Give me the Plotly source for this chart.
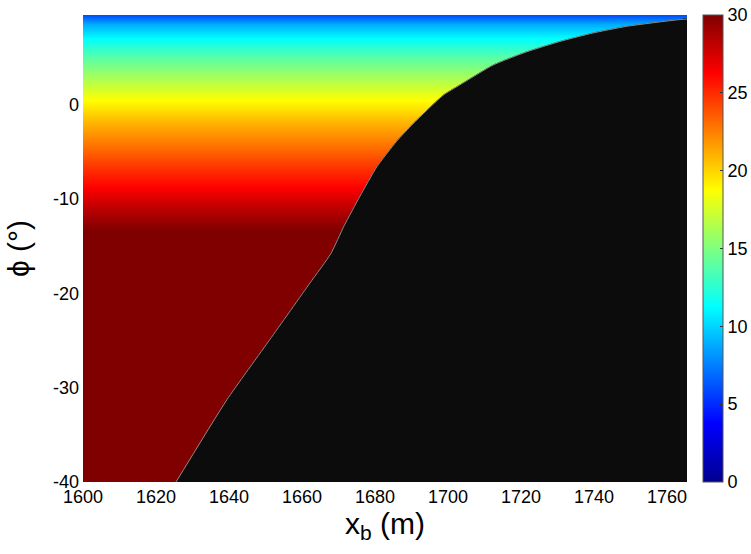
import plotly.graph_objects as go

# Colour value (0-30) as a function of phi (constant along x)
phi_rows = [9.8, 9.5, 8.5, 7.1, 5.0, 3.0, 0.5, -2.0, -4.5, -6.5, -8.7, -11.0, -13.3, -40.5]
row_values = [5.5, 6.0, 8.8, 11.25, 13.8, 16.0, 18.75, 21.0, 23.0, 24.6, 26.25, 28.2, 30.0, 30.0]
x_cols = [1595, 1770]

# Boundary of the black (empty) region
bound_x = [1624.7, 1639.4, 1651.2, 1662.2, 1667.9, 1671.6, 1675.9, 1680.5, 1685.9, 1690.5,
           1698.7, 1703.3, 1712.4, 1721.6, 1730.7, 1739.8, 1749.0, 1763.1, 1767.0]
bound_y = [-40.5, -31.3, -24.9, -18.9, -15.8, -12.8, -9.7, -6.6, -3.9, -2.0,
           1.0, 2.1, 4.2, 5.6, 6.7, 7.6, 8.3, 9.0, 9.1]
corner_x = [1767.0, 1624.5]
corner_y = [-40.5, -40.5]

x_ticks = [1600, 1620, 1640, 1660, 1680, 1700, 1720, 1740, 1760]
y_ticks = [0, -10, -20, -30, -40]
y_ticktext = ["0", "-10", "-20", "-30", "-40"]
cb_ticks = [0, 5, 10, 15, 20, 25, 30]

jet = [[0.0, "rgb(0,0,143)"], [0.125, "rgb(0,0,255)"], [0.375, "rgb(0,255,255)"],
       [0.625, "rgb(255,255,0)"], [0.875, "rgb(255,0,0)"], [1.0, "rgb(128,0,0)"]]

z = [[v for _ in x_cols] for v in row_values]

font = "Liberation Sans, Arial, sans-serif"

fig = go.Figure()
fig.add_trace(go.Heatmap(
    x=x_cols, y=phi_rows, z=z, zmin=0, zmax=30, zsmooth="best",
    colorscale=jet,
    colorbar=dict(
        x=1.0265, xanchor="left", xpad=0, ypad=0, y=0.5, yanchor="middle",
        len=1, lenmode="fraction", thickness=20, thicknessmode="pixels",
        outlinewidth=1, outlinecolor="#555555",
        tickvals=cb_ticks, ticktext=[str(t) for t in cb_ticks],
        ticks="inside", ticklen=3, tickcolor="#333333",
        tickfont=dict(family=font, size=18, color="black"),
    ),
    hoverinfo="skip",
))

# black region, filled
fig.add_trace(go.Scatter(
    x=bound_x + corner_x + [bound_x[0]],
    y=bound_y + corner_y + [bound_y[0]],
    mode="lines", fill="toself", fillcolor="#0c0c0c",
    line=dict(color="#0c0c0c", width=0.5, shape="spline", smoothing=0.5),
    showlegend=False, hoverinfo="skip",
))
# thin grey edge along the boundary
fig.add_trace(go.Scatter(
    x=bound_x, y=bound_y, mode="lines",
    line=dict(color="#8a8a8a", width=1, shape="spline", smoothing=0.5),
    showlegend=False, hoverinfo="skip",
))

fig.update_layout(
    width=751, height=554,
    margin=dict(l=83, r=64, t=15, b=72, autoexpand=False),
    paper_bgcolor="white", plot_bgcolor="white",
    showlegend=False,
    font=dict(family=font, color="black"),
    xaxis=dict(
        range=[1600, 1765.5], tickvals=x_ticks, ticktext=[str(t) for t in x_ticks],
        showgrid=False, zeroline=False, showline=False, ticks="", automargin=False,
        tickfont=dict(size=18), ticklabelstandoff=2,
        title=dict(text="x<sub>b</sub> (m)", font=dict(size=30), standoff=5),
    ),
    yaxis=dict(
        range=[-40, 9.5], tickvals=y_ticks, ticktext=y_ticktext,
        showgrid=False, zeroline=False, showline=False, ticks="", automargin=False,
        tickfont=dict(size=18), ticklabelstandoff=3,
        title=dict(text="ϕ (°)", font=dict(size=30), standoff=14),
    ),
)

fig.write_html(
    "out.html",
    config={"displayModeBar": False},
    post_script="document.body.style.margin='0';document.body.style.overflow='hidden';",
)
